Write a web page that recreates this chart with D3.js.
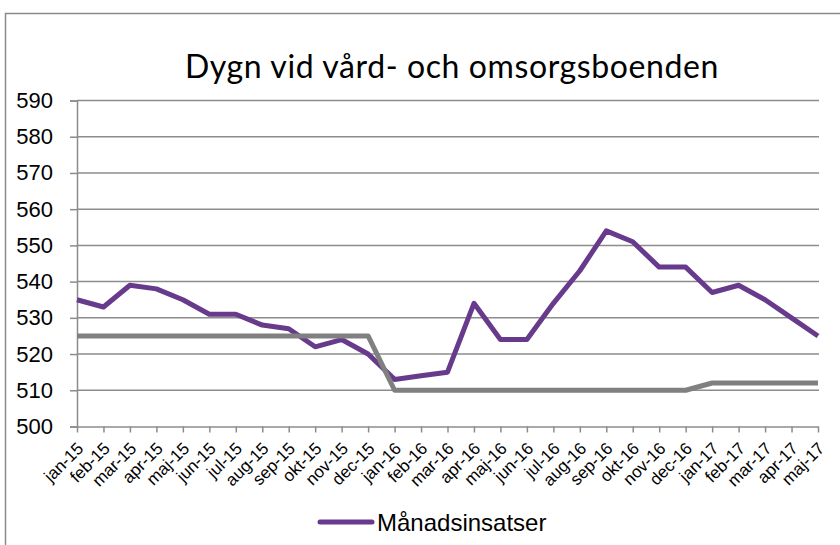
<!DOCTYPE html>
<html>
<head>
<meta charset="utf-8">
<script src="https://cdn.jsdelivr.net/npm/d3@7"></script>
<style>
body { margin: 0; background: #fff; }
svg { display: block; }
</style>
</head>
<body>
<div id="plot"></div>
<script>
var width = 840, height = 545;
var margin = {left: 77, right: 22, top: 100.5, bottom: 118.5};

var months = ['jan-15','feb-15','mar-15','apr-15','maj-15','jun-15','jul-15','aug-15','sep-15','okt-15','nov-15','dec-15',
	'jan-16','feb-16','mar-16','apr-16','maj-16','jun-16','jul-16','aug-16','sep-16','okt-16','nov-16','dec-16',
	'jan-17','feb-17','mar-17','apr-17','maj-17'];
var manadsinsatser = [535,533,539,538,535,531,531,528,527,522,524,520,
	513,514,515,534,524,524,534,543,554,551,544,544,
	537,539,535,530,525];
// grey series without a legend entry
var budget = [525,525,525,525,525,525,525,525,525,525,525,525,
	510,510,510,510,510,510,510,510,510,510,510,510,
	512,512,512,512,512];
var yTicks = [500,510,520,530,540,550,560,570,580,590];

var svg = d3.select('#plot').append('svg')
	.attr('width', width)
	.attr('height', height)

// outer chart border
svg.append('rect')
	.attr('x', 5.5).attr('y', 13.5)
	.attr('width', 900).attr('height', 600)
	.attr('fill', 'none')
	.attr('stroke', '#8a8a8a')
	.attr('stroke-width', 1.5)

var x = d3.scalePoint().domain(months).range([margin.left, width - margin.right])
var y = d3.scaleLinear().domain([500, 590]).range([height - margin.bottom, margin.top])

// title
svg.append('text')
	.attr('x', 452).attr('y', 78)
	.attr('text-anchor', 'middle')
	.style('font-family', 'Lato, "Noto Sans", sans-serif')
	.style('font-size', '32px')
	.style('letter-spacing', '0.6px')
	.attr('fill', '#000')
	.text('Dygn vid vård- och omsorgsboenden')

// gridlines
svg.append('g').selectAll('line').data(yTicks.slice(1)).join('line')
	.attr('x1', margin.left).attr('x2', width - margin.right + 1)
	.attr('y1', d => y(d)).attr('y2', d => y(d))
	.attr('stroke', '#8c8c8c').attr('stroke-width', 1.5)

// y axis
var yAxis = d3.axisLeft(y).tickValues(yTicks).tickSize(7).tickPadding(16).tickFormat(d3.format('d'))
var gy = svg.append('g').attr('transform', 'translate(' + margin.left + ',0)').call(yAxis)
gy.select('.domain').attr('stroke', '#8c8c8c').attr('stroke-width', 1.5)
gy.selectAll('.tick line').attr('stroke', '#8c8c8c').attr('stroke-width', 1.5)
gy.selectAll('.tick text')
	.style('font-family', '"Liberation Sans", Arial, sans-serif')
	.style('font-size', '22px')
	.attr('fill', '#000')
	.attr('x', -24)

// x axis
var xAxis = d3.axisBottom(x).tickSize(6).tickSizeOuter(0)
var gx = svg.append('g').attr('transform', 'translate(0,' + (height - margin.bottom) + ')').call(xAxis)
gx.select('.domain').attr('stroke', '#8c8c8c').attr('stroke-width', 1.5)
gx.selectAll('.tick line').attr('stroke', '#8c8c8c').attr('stroke-width', 1.5)
gx.selectAll('.tick text')
	.style('font-family', '"Liberation Sans", Arial, sans-serif')
	.style('font-size', '17px')
	.attr('fill', '#000')
	.attr('text-anchor', 'end')
	.attr('y', 0).attr('dy', 0)
	.attr('transform', 'translate(7,23) rotate(-45)')

var line = d3.line().x((d, i) => x(months[i])).y(d => y(d))

svg.append('path').datum(manadsinsatser)
	.attr('d', line)
	.attr('fill', 'none')
	.attr('stroke', '#673a8b')
	.attr('stroke-width', 5)
	.attr('stroke-linejoin', 'round')

svg.append('path').datum(budget)
	.attr('d', line)
	.attr('fill', 'none')
	.attr('stroke', '#808080')
	.attr('stroke-width', 5)
	.attr('stroke-linejoin', 'round')

// legend
var lg = svg.append('g').attr('transform', 'translate(318,522)')
lg.append('line')
	.attr('x1', 2).attr('x2', 54).attr('y1', 0).attr('y2', 0)
	.attr('stroke', '#673a8b').attr('stroke-width', 5).attr('stroke-linecap', 'round')
lg.append('text')
	.attr('x', 59).attr('y', 8.5)
	.style('font-family', '"Liberation Sans", Arial, sans-serif')
	.style('font-size', '24px')
	.attr('fill', '#000')
	.text('Månadsinsatser')
</script>
</body>
</html>
